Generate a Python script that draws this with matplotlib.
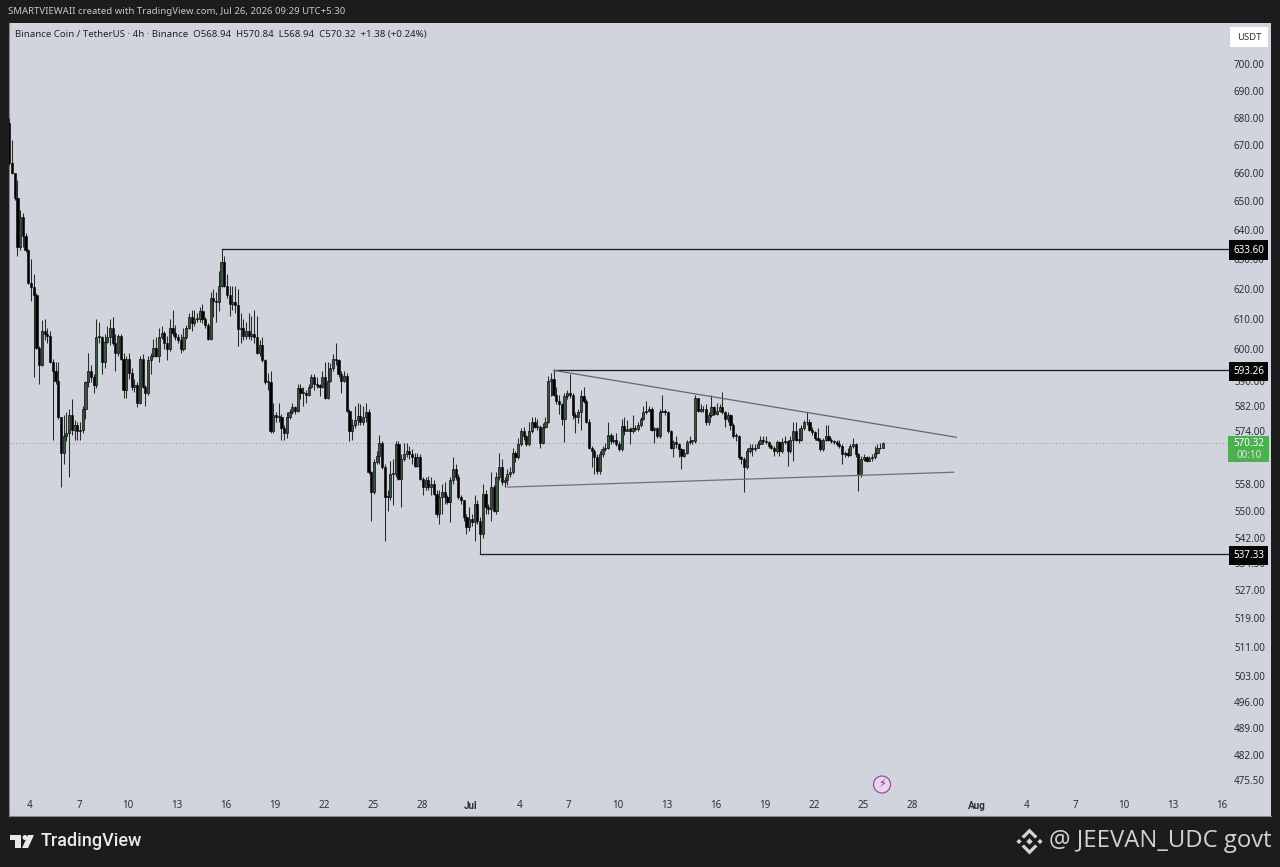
import matplotlib
matplotlib.use("Agg")
import matplotlib.pyplot as plt
import matplotlib.dates as mdates
from matplotlib.patches import Polygon, Rectangle, Circle
from matplotlib.ticker import NullLocator, NullFormatter
from matplotlib.transforms import blended_transform_factory
import numpy as np
import pandas as pd

FIRST_OPEN = 678.0
closes = [
663.5,660,651,634,644.5,638,633,622,620.5,618,600.5,595,606,605,604.5,596,593,590,578.5,567.5,
572.5,573.5,579,574.5,576,574,574.5,581,589.5,593,591,588.5,604,604,596,602.5,604,607,602,599,
604.5,597,587,597,592.5,588,588.5,583,597,588,586,596.5,598,600.5,598,604,605.5,602,600,607,
605.5,604,603,600,604,607,610.5,608.5,610,610,612.5,610,608,603.5,617,616,615.5,621,629,621,
618,615,615.5,614.5,606.5,607,604.5,606,604.5,605,604,599,601.5,596.5,589.5,589.5,574,579,578.5,578.5,
575,573.5,578.5,580,581.5,580.5,587.5,586,586,585.5,588,591,589,588.5,588,591,584.5,590,594,597,
596.5,592,590,591.5,580.5,574,576,577.7,578.7,577,578.5,580,561.5,555.5,564.5,566.5,570.5,563,554,554,
561,561,570,559.5,565.5,567,568,567,566,563.5,566,559.5,557,559,557,558,555,549,554,555.5,
554,552.5,559,562.5,560,554,553,548,545,547.5,546.5,552,547,543,555,551,550.5,557,550,560,
563,558.5,559,561,561.5,567.5,566,570,574,572.7,570,574,577,575.5,575.5,570.5,575.5,577,590,590.5,
585.5,583.5,582.5,578,585,586,585.5,579,578.5,580,585,583.5,577,569,568,566,562,567,568.5,569,
573,571,571.5,570,568.5,575.8,574,574.7,574,575,574.8,576,578,580,580.5,580.9,574.5,575,572.5,580,
580.5,580,574,569,570.7,570,568.5,566.5,567.5,570.7,571,571,584.5,580.5,580.9,581,576.8,579,581.5,579.5,
580.5,581.5,580,578,579,576,572.5,572.5,566,565.5,563,568,569,568.5,569,570,571.5,571,570.7,569.5,
569,568,570.7,568,570.7,571,568,571.5,574,571.5,571.5,575,576.8,577,574.5,573.7,572,571.5,568.5,571.5,
572.5,571.5,571,570.7,570,569.5,567,567.5,566.7,569.5,570,567,561,565.5,566,565,565.7,566,567.5,569,
568.94,570.32]
highs = [
680,672,660,657.5,647,646,639,633.5,630,625,618.5,601,609.5,610,607,606,597,596,596,578.5,
579,580,581,584,577.7,577,577,582,590,599,595,592,610,609,604.5,605,607.5,610,610.5,605,
605,605,599,598,599,594,590.5,589.5,598,598.5,588.5,598,599,603.5,604,607,607.5,606,604.5,610,
613,608,605,605,607,608,612,613,613,612,614,615,610.5,608.5,619,620,619,626,633.6,631,
625,621,621,621,620,612,610,609,612,611,613,611,603,604,597,592.5,593,583,580,583,
579.5,576,580,581,583,582,589,589,588,587,589,592,592,591,589,593,596,596,595.5,598.5,
602,597,593,593,592.5,581,578,582,583,582.5,582,583,581,562,565.5,568,573,571,564,556,
565,565.5,571,571,567,570.5,570.5,569.5,568.5,567.5,567.5,567,560,560,560.5,560,559,556,556,558,
558.5,554.5,560,566,564,561,554.5,553,549,551,549,554.5,553,548,558,556,552,561.5,557.5,561.5,
567.5,565.5,560,562.5,563,569,568,572,575,575.5,573,577,578.5,578.5,578,576,576.5,578.5,591.5,592.5,
593.26,588,585.5,583,586,587,592,586,580,581,587,588,584,578,569.5,568.5,567,568,569.5,570.5,
577,573.5,573,573.5,571,578,578.5,577.5,575.5,579,576,577,578.5,582,583.5,582,581.5,575.5,575.5,581,
585.5,581,580.5,574.5,571.5,572.5,570.5,569,568.5,571.5,572.5,571.5,585.5,584.5,582.5,582,582.5,580,585.5,582,
583,582.5,586.5,580.5,580,579.5,576.5,573.5,573,566.5,566,569,570,570,570,571,572.5,572.5,572.7,571,
570,569.5,571.5,571,572,572.5,571.5,572.5,577,577,575,576,577.5,580,578,575.5,574,575,572,572,
576,576,572,571.5,571.5,571.5,570,568,569,570,572,570.5,567.5,566.5,567,566.5,566.5,567,569.5,570,
570.5,570.84]
lows = [
663,659.5,650.5,631,633,634,632.5,621.5,616,591,600,589,594.5,603,602,595.5,571.5,589,578,557,
564,571,560,573,571.5,571.5,571.5,573.5,578,588,589.5,586,587.5,602,592,594,602,601.5,601.5,593,
598,596.5,584.5,584.5,590.5,587,586.5,581.5,582.5,587.5,582,585.5,592,597.5,597.5,596,603.5,600,596.5,599.5,
604.5,603,602,599,599.5,603.5,606.5,606,607.5,609,609,608.5,607,603,603,610.5,609,612.5,620.5,620.5,
617,611,613,612,601,602,603,603.5,603.5,603,602,598.5,598,596,589,587,573.5,573.5,577,577,
571.5,571.5,572,578,579.5,579.5,580,584,582,583,585,587.5,587,587.5,585,587.5,584,584,589.5,593,
595,591,586,589.5,580,571,571.5,575,576,576,576,577,561,547,555,564,564,562.5,541,550,
553,551.5,560,559,551,565,566,565.5,564,563,563,559,554.5,556,556,554.5,554.5,548,546,549,
552,552,546.5,558,559,553.5,552,547,543,544,545.5,541,546,537.33,542,549,549,547,549.5,549,
559,557.5,557,557.5,560,561,564.5,565.5,569.5,571.5,569.5,569.5,573.5,575,574.5,569,570,575,576.5,585,
585,582.5,579.5,576,570.7,584,584.5,578,573.5,576.5,574.5,583,576.5,568.5,563,561,561,561,566,568,
568.5,570,570.5,569.5,568,568,573,574,570,573.5,574,574,575.5,577.5,579.5,580,574,570.5,572,572,
580,579,573.5,568.5,566,569,566,562.5,566,567,570,570,570.5,580,580,580,576,576,578.5,579,
579,580,579.5,575.5,577,574.5,572,571,565.5,564,555.6,562.5,567.5,566.5,568,569,570,570,570,569,
568.5,566.5,567.5,566.5,567.5,570,563.5,567.5,565,571,570.5,571,574.5,576,574,573,571.5,571,568,568,
571,571,570.5,570,569.5,569,564,566,566,566.5,569,566,555.7,560,565,564.5,565,565,565.5,567,
568.5,568.94]

y_ticks = [700,690,680,670,660,650,640,630,620,610,600,590,582,574,558,550,542,534.5,527,519,511,503,496,489,482,475.5]
x_tick_dates = ["2026-06-04","2026-06-07","2026-06-10","2026-06-13","2026-06-16","2026-06-19","2026-06-22","2026-06-25","2026-06-28",
                "2026-07-01","2026-07-04","2026-07-07","2026-07-10","2026-07-13","2026-07-16","2026-07-19","2026-07-22","2026-07-25","2026-07-28",
                "2026-08-01","2026-08-04","2026-08-07","2026-08-10","2026-08-13","2026-08-16"]
x_tick_labels = ["4","7","10","13","16","19","22","25","28","Jul","4","7","10","13","16","19","22","25","28","Aug","4","7","10","13","16"]
level_prices = [633.60, 593.26, 537.33]
level_starts = ["2026-06-15 17:30","2026-07-06 01:30","2026-07-01 13:30"]
last_price = 570.32
trend_upper = (["2026-07-06 01:30","2026-07-30 17:30"],[593.26,572.2])
trend_lower = (["2026-07-03 05:30","2026-07-30 13:30"],[557.0,561.5])

DARK = "#1c1c1c"; PANE = "#d1d4dc"; TXT = "#2a2e39"
plt.rcParams["font.family"] = ["Noto Sans","DejaVu Sans"]

fig = plt.figure(figsize=(12.8,8.67),dpi=100,facecolor=DARK)
L,R,T,B = 9,1271,23,816
ax = fig.add_axes([L/1280,(867-B)/867,(R-L)/1280,(B-T)/867],facecolor=PANE)

times = pd.date_range("2026-06-02 17:30",periods=len(closes),freq="4h")
x = mdates.date2num(times)
opens = np.array([FIRST_OPEN]+closes[:-1]); c = np.array(closes)
up = c>=opens
bar_w = 4/24*0.8
ax.vlines(x,lows,highs,color="#262c29",lw=0.75,zorder=3)
ax.bar(x[~up],(opens-c)[~up],bottom=c[~up],width=bar_w,color="#000000",edgecolor="#000000",lw=0.4,zorder=4)
ax.bar(x[up],np.maximum((c-opens)[up],0.25),bottom=opens[up],width=bar_w,color="#3a5544",edgecolor="#0a0f0b",lw=0.5,zorder=4)

# axes limits from known price/time scale
k = 1851.6; day_px = 16.33
ax.set_yscale("log")
ax.set_ylim(700*np.exp(-(B-64)/k),700*np.exp((64-T)/k))
x0 = mdates.date2num(pd.Timestamp("2026-06-04"))
ax.set_xlim(x0+(L-30)/day_px,x0+(R-30)/day_px)
xr = x0+(1228-30)/day_px

# levels and trendlines
for p,s in zip(level_prices,level_starts):
    ax.plot([mdates.date2num(pd.Timestamp(s)),xr],[p,p],color="#1e1e24",lw=0.95,zorder=2)
for pts,col in ((trend_upper,"#63666d"),(trend_lower,"#6d7076")):
    ax.plot(mdates.date2num(pd.to_datetime(pts[0])),pts[1],color=col,lw=0.9,zorder=5)
ax.plot([ax.get_xlim()[0],xr],[last_price,last_price],color="#9aa69e",lw=0.8,ls=(0,(1,2)),zorder=1)

# axes ticks
ax.yaxis.tick_right()
ax.set_yticks(y_ticks)
ax.set_yticklabels([f"{v:.2f}" for v in y_ticks],fontsize=7.1,color=TXT)
ax.yaxis.set_minor_locator(NullLocator()); ax.yaxis.set_minor_formatter(NullFormatter())
ax.tick_params(axis="y",length=0,pad=-(R-1234)*0.72)
ax.set_xticks(mdates.date2num(pd.to_datetime(x_tick_dates)))
ax.set_xticklabels(x_tick_labels,fontsize=7.1,color=TXT,va="center")
ax.tick_params(axis="x",length=0,pad=-10*0.72)
for lab in ax.get_xticklabels():
    if lab.get_text() in ("Jul","Aug"):
        lab.set_family("Roboto"); lab.set_fontweight("bold")
for s in ax.spines.values():
    s.set_color("#85878d"); s.set_linewidth(0.8)
ax.spines["top"].set_visible(False); ax.spines["right"].set_visible(False)
for lab in ax.get_yticklabels():
    lab.set_zorder(1)

# price tags in data coordinates
tr = blended_transform_factory(ax.transAxes,ax.transData)
xf = (1248.5-L)/(R-L)
for p in level_prices:
    ax.text(xf,p,f"{p:.2f}",transform=tr,ha="center",va="center_baseline",fontsize=7.1,color="white",zorder=10,
            bbox=dict(boxstyle="square,pad=0.42",fc="#060606",ec="none"))

# overlay for chrome
ov = fig.add_axes([0,0,1,1],facecolor="none",zorder=20)
ov.set_xlim(0,1280); ov.set_ylim(867,0); ov.axis("off")
ov.text(8,12,"SMARTVIEWAII created with TradingView.com, Jul 26, 2026 09:29 UTC+5:30",fontsize=6.92,color="#c8c9cc",va="center")
ov.text(15,34.5,"Binance Coin / TetherUS · 4h · Binance  O568.94  H570.84  L568.94  C570.32  +1.38 (+0.24%)",fontsize=6.95,color="#20232c",va="center")
ov.add_patch(Rectangle((1230,27),38,20,fc="white",ec="none"))
ov.text(1249,37,"USDT",fontsize=6.8,color=TXT,ha="center",va="center")
ov.add_patch(Rectangle((1228,436),41,26,fc="#4caf50",ec="none"))
ov.text(1249,444,"570.32",fontsize=7.1,color="white",ha="center",va="center")
ov.text(1249,455.5,"00:10",fontsize=7.1,color="#d5f0d6",ha="center",va="center")
ov.add_patch(Circle((882,784.5),8.5,fc="#e6d8ea",ec="#a04aa8",lw=0.9))
ov.text(882,784.5,"\u26a1",fontsize=8,family="DejaVu Sans",color="#8b1e96",ha="center",va="center")
# TradingView logo
ov.add_patch(Polygon([(10,835),(21,835),(21,848),(15,848),(15,840),(10,840)],fc="#e8e8e8",ec="none"))
ov.add_patch(Circle((25,837.5),2.5,fc="#e8e8e8",ec="none"))
ov.add_patch(Polygon([(28,835),(34,835),(28,848),(22,848)],fc="#e8e8e8",ec="none"))
ov.text(40.5,841.5,"TradingView",fontsize=12.95,family="Roboto",color="#eaeaea",weight="medium",va="center")
# Binance mark
def dia(cx,cy,r):
    return Polygon([(cx,cy-r),(cx+r,cy),(cx,cy+r),(cx-r,cy)],fc="#d4d4d4",ec="none")
cx,cy=1029.5,841.5
for a,b,r in ((-10.5,0,2.6),(10.5,0,2.6),(0,0,3.2)):
    ov.add_patch(dia(cx+a,cy+b,r))
ov.add_patch(Polygon([(cx,cy-13),(cx+8,cy-5),(cx+5.5,cy-3),(cx,cy-8.5),(cx-5.5,cy-3),(cx-8,cy-5)],fc="#d4d4d4",ec="none"))
ov.add_patch(Polygon([(cx,cy+13),(cx+8,cy+5),(cx+5.5,cy+3),(cx,cy+8.5),(cx-5.5,cy+3),(cx-8,cy+5)],fc="#d4d4d4",ec="none"))
ov.text(1049,841,"@ JEEVAN_UDC govt",fontsize=17.2,family="Open Sans",color="#d2d2d2",va="center")

fig.savefig("out.png",dpi=100,facecolor=DARK)
